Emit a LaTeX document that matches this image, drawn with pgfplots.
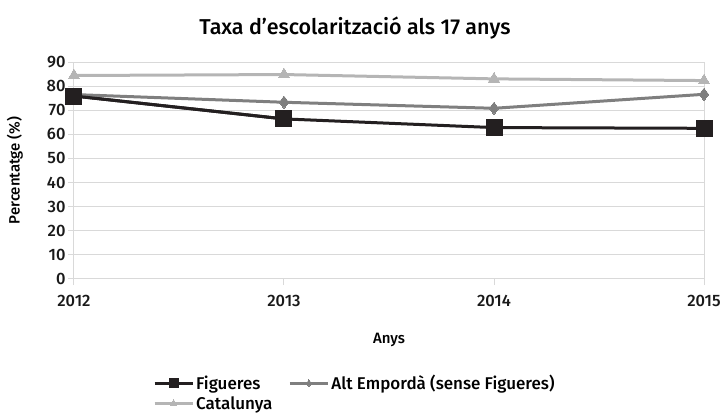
\documentclass[border=0pt]{standalone}
\usepackage{pgfplots}
\pgfplotsset{compat=1.18}
\usepackage{fontspec}
\setmainfont{Fira Sans}[UprightFont=* Medium, BoldFont=* SemiBold]
\definecolor{cFig}{HTML}{231F20}
\definecolor{cAlt}{HTML}{7F7F7F}
\definecolor{cCat}{HTML}{B5B5B5}
\definecolor{cGrid}{HTML}{D9D9D9}
\begin{document}
\begin{tikzpicture}[x=1pt,y=1pt]
\path[use as bounding box] (-74pt,-136pt) rectangle (647pt,279pt);
\begin{axis}[
  at={(0,0)}, anchor=south west,
  scale only axis, width=630pt, height=217pt,
  xmin=2012, xmax=2015, ymin=0, ymax=90,
  xtick={2012,2013,2014,2015}, ytick={0,10,...,90},
  /pgf/number format/1000 sep={},
  /pgf/number format/assume math mode=true,
  tick label style={font=\fontsize{16.5}{18}\selectfont, text=black!90},
  yticklabel style={xshift=1pt},
  xticklabel style={yshift=-7pt},
  axis line style={cGrid, line width=1pt},
  ymajorgrids, grid style={cGrid, line width=1pt},
  tick style={cGrid, line width=1pt},
  major tick length=6pt,
  tick align=outside, xtick pos=bottom, ytick pos=left,
  clip=false,
  title={Taxa d’escolarització als 17 anys},
  title style={font=\fontsize{21.5}{24}\selectfont, at={(0.446,1)}, yshift=13pt},
  xlabel={Anys}, ylabel={Percentatge (\%)},
  xlabel style={font=\fontsize{15}{17}\selectfont, yshift=-19pt},
  ylabel style={font=\fontsize{15}{17}\selectfont, at={(axis description cs:-0.0937,0.5)}, anchor=center},
  legend columns=2,
  legend style={draw=none, at={(78pt,-93pt)}, anchor=north west,
    font=\fontsize{17}{19}\selectfont, row sep=1pt, inner sep=1pt,
    /tikz/every even column/.append style={column sep=14pt}},
  legend cell align=left,
  legend image code/.code={\draw[#1,/tikz/every mark/.append style={scale=0.55}] plot coordinates {(0pt,0pt)(19pt,0pt)(38pt,0pt)};},
  legend image post style={mark repeat=2, mark phase=2},
]
\addplot[cFig, line width=3pt, mark=square*, mark size=8pt, mark options={solid, fill=cFig, line width=0pt}]
  coordinates {(2012,75.9)(2013,66.4)(2014,62.8)(2015,62.5)};
\addlegendentry{Figueres}
\addplot[cAlt, line width=3pt, mark=diamond*, mark size=6.2pt, mark options={solid, fill=cAlt, line width=0pt}]
  coordinates {(2012,76.5)(2013,73.3)(2014,70.8)(2015,76.6)};
\addlegendentry{Alt Empordà (sense Figueres)}
\addplot[cCat, line width=3pt, mark=triangle*, mark size=6.5pt, mark options={solid, fill=cCat, line width=0pt}]
  coordinates {(2012,84.4)(2013,84.8)(2014,83.0)(2015,82.3)};
\addlegendentry{Catalunya}
\addplot[cFig, line width=3pt, mark=square*, mark size=8pt, mark options={solid, fill=cFig, line width=0pt}, forget plot]
  coordinates {(2012,75.9)(2013,66.4)};
\end{axis}
\end{tikzpicture}
\end{document}
